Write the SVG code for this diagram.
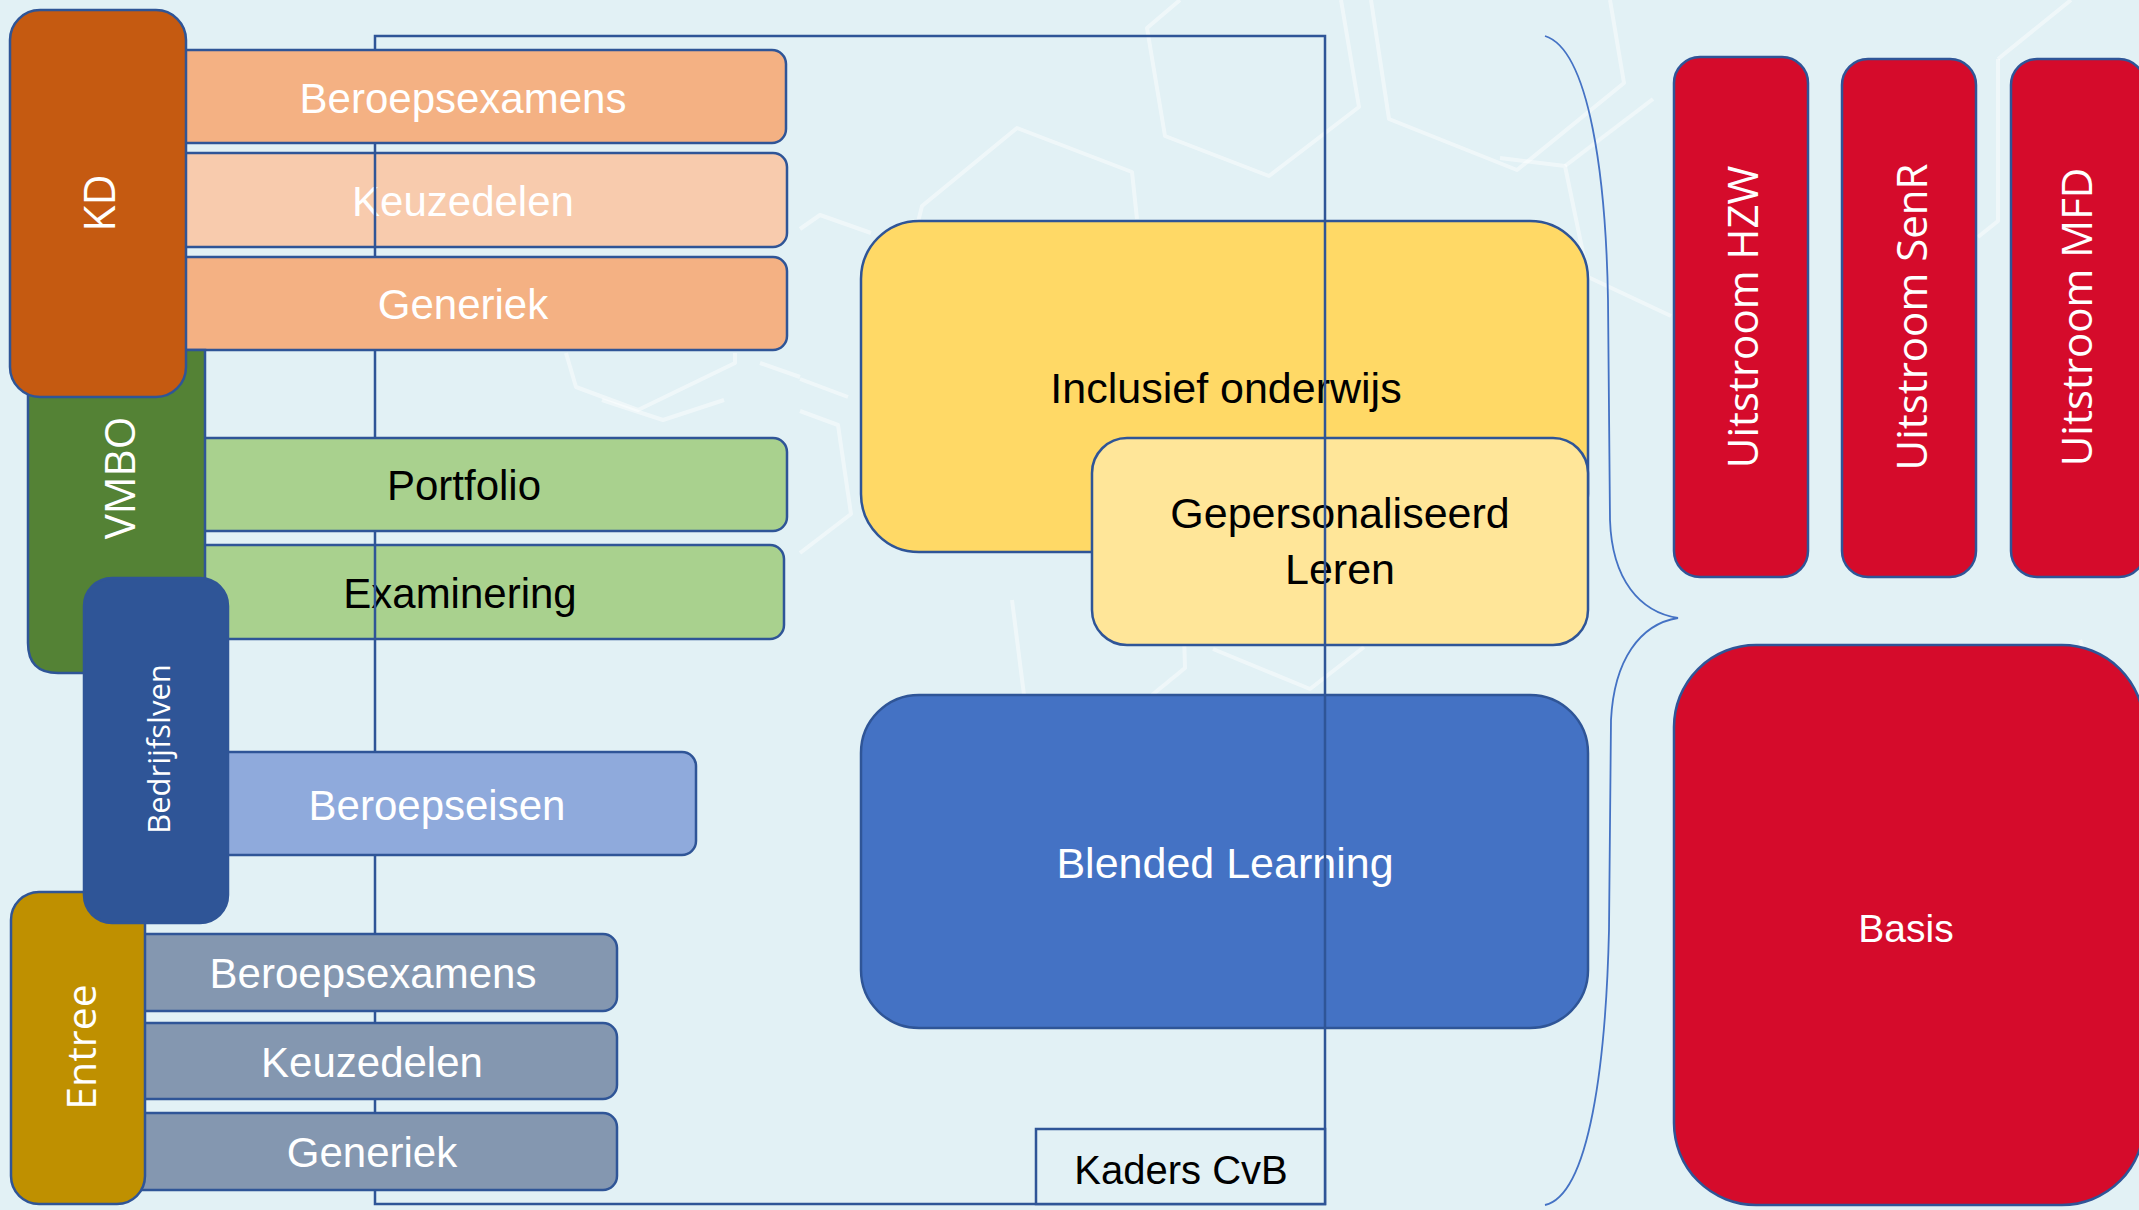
<svg xmlns="http://www.w3.org/2000/svg" width="2139" height="1210" viewBox="0 0 2139 1210">
<defs>
<style>
.box{stroke:#2F5597;stroke-width:2.5}
.hex{fill:none;stroke:#FFFFFF;stroke-width:4;stroke-opacity:0.45;stroke-linejoin:round}
.t{font-family:"Liberation Sans",Arial,sans-serif;text-anchor:middle}
.r{font-family:"Open Sans","Noto Sans",sans-serif;text-anchor:middle;fill:#FFFFFF}
.w{fill:#FFFFFF}
.b{fill:#000000}
</style>
</defs>
<rect x="0" y="0" width="2139" height="1210" fill="#E2F1F5"/>
<g id="decor">
<polyline class="hex" points="1180,0 1147,28 1165,136 1269,176 1359,107 1341,0"/>
<polyline class="hex" points="1371,0 1389,119 1517,170 1624,83 1610,0"/>
<polyline class="hex" points="1500,158 1565,166 1588,277 1671,316"/>
<polyline class="hex" points="1653,99 1565,166"/>
<polyline class="hex" points="918,222 922,206 1017,128 1132,172 1137,219"/>
<polyline class="hex" points="800,229 820,215 871,233"/>
<polyline class="hex" points="800,379 848,397"/>
<polyline class="hex" points="800,411 838,425 851,514 800,553"/>
<polyline class="hex" points="1012,600 1024,695"/>
<polyline class="hex" points="1183,600 1185,668 1152,695"/>
<polyline class="hex" points="1213,649 1310,689 1364,647"/>
<polyline class="hex" points="566,353 576,387 638,410 735,363 735,353"/>
<polyline class="hex" points="760,363 800,377"/>
<polyline class="hex" points="602,400 663,420 724,400"/>
<polyline class="hex" points="1998,59 2071,0"/>
<polyline class="hex" points="1978,237 1998,221 1998,59"/>
<polyline class="hex" points="2080,640 2100,700 2139,720"/>
</g>
<g id="kd-keuzedelen">
<rect class="box" x="150" y="153" width="637" height="94" rx="14" fill="#F8CBAD"/>
<text class="t w" x="463" y="216" font-size="42">Keuzedelen</text>
</g>
<g id="vmbo-examinering">
<rect class="box" x="170" y="545" width="614" height="94" rx="14" fill="#A9D18E"/>
<text class="t b" x="460" y="608" font-size="42">Examinering</text>
</g>
<g id="inclusief">
<rect class="box" x="861" y="221" width="727" height="331" rx="58" fill="#FFD966"/>
<text class="t b" x="1226" y="403" font-size="43">Inclusief onderwijs</text>
</g>
<g id="gepersonaliseerd">
<rect class="box" x="1092" y="438" width="496" height="207" rx="35" fill="#FFE699"/>
<text class="t b" x="1340" y="528" font-size="43">Gepersonaliseerd</text>
<text class="t b" x="1340" y="584" font-size="43">Leren</text>
</g>
<g id="blended">
<rect class="box" x="861" y="695" width="727" height="333" rx="58" fill="#4472C4"/>
<text class="t w" x="1225" y="878" font-size="43">Blended Learning</text>
</g>
<g id="connectors">
<rect x="375" y="36" width="950" height="1168" fill="none" stroke="#2F5597" stroke-width="2.5"/>
<path d="M1545,36 C1590,50 1606,180 1608,300 L1610,520 C1612,580 1640,612 1678,618 C1640,624 1614,660 1611,720 L1609,930 C1606,1060 1590,1195 1545,1205" fill="none" stroke="#4472C4" stroke-width="1.8"/>
</g>
<g id="kd-beroepsexamens">
<rect class="box" x="150" y="50" width="636" height="93" rx="14" fill="#F4B183"/>
<text class="t w" x="463" y="113" font-size="42">Beroepsexamens</text>
</g>
<g id="kd-generiek">
<rect class="box" x="150" y="257" width="637" height="93" rx="14" fill="#F4B183"/>
<text class="t w" x="463" y="319" font-size="42">Generiek</text>
</g>
<g id="vmbo-portfolio">
<rect class="box" x="170" y="438" width="617" height="93" rx="14" fill="#A9D18E"/>
<text class="t b" x="464" y="500" font-size="42">Portfolio</text>
</g>
<g id="beroepseisen">
<rect class="box" x="200" y="752" width="496" height="103" rx="14" fill="#8FAADC"/>
<text class="t w" x="437" y="820" font-size="42">Beroepseisen</text>
</g>
<g id="entree-beroepsexamens">
<rect class="box" x="120" y="934" width="497" height="77" rx="14" fill="#8497B0"/>
<text class="t w" x="373" y="988" font-size="42">Beroepsexamens</text>
</g>
<g id="entree-keuzedelen">
<rect class="box" x="120" y="1023" width="497" height="76" rx="14" fill="#8497B0"/>
<text class="t w" x="372" y="1077" font-size="42">Keuzedelen</text>
</g>
<g id="entree-generiek">
<rect class="box" x="120" y="1113" width="497" height="77" rx="14" fill="#8497B0"/>
<text class="t w" x="372" y="1167" font-size="42">Generiek</text>
</g>
<g id="vmbo">
<path class="box" d="M28,350 L205,350 L205,643 Q205,673 175,673 L58,673 Q28,673 28,643 Z" fill="#548235"/>
<text class="r" transform="translate(135,478) rotate(-90)" font-size="42">VMBO</text>
</g>
<g id="kd">
<rect class="box" x="10" y="10" width="176" height="387" rx="30" fill="#C55A11"/>
<text class="r" transform="translate(115,203) rotate(-90)" font-size="43">KD</text>
</g>
<g id="entree">
<rect class="box" x="11" y="892" width="134" height="312" rx="28" fill="#BF9000"/>
<text class="r" transform="translate(96,1047) rotate(-90)" font-size="41">Entree</text>
</g>
<g id="bedrijfslven">
<rect class="box" x="84" y="578" width="144" height="345" rx="28" fill="#2F5597"/>
<text class="r" transform="translate(170,749) rotate(-90)" font-size="31">Bedrijfslven</text>
</g>
<g id="kaders">
<rect class="box" x="1036" y="1129" width="289" height="75" fill="#E2F1F5"/>
<text class="t b" x="1181" y="1184" font-size="40">Kaders CvB</text>
</g>
<g id="uitstroom-hzw">
<rect class="box" x="1674" y="57" width="134" height="520" rx="26" fill="#D50B2B"/>
<text class="r" transform="translate(1758,317) rotate(-90)" font-size="42">Uitstroom HZW</text>
</g>
<g id="uitstroom-senr">
<rect class="box" x="1842" y="59" width="134" height="518" rx="26" fill="#D50B2B"/>
<text class="r" transform="translate(1927,317) rotate(-90)" font-size="42">Uitstroom SenR</text>
</g>
<g id="uitstroom-mfd">
<rect class="box" x="2011" y="59" width="134" height="518" rx="26" fill="#D50B2B"/>
<text class="r" transform="translate(2092,317) rotate(-90)" font-size="42">Uitstroom MFD</text>
</g>
<g id="basis">
<rect class="box" x="1674" y="645" width="470" height="560" rx="82" fill="#D50B2B"/>
<text class="t w" x="1906" y="942" font-size="39">Basis</text>
</g>
</svg>
